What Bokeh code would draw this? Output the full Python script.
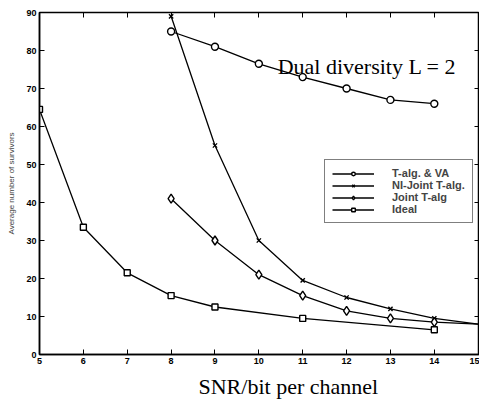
from bokeh.plotting import figure
from bokeh.models import Legend, LegendItem, LinearAxis, Label, FixedTicker, Title
from bokeh.embed import file_html
from bokeh.resources import INLINE

# data
snr_talg = [8, 9, 10, 11, 12, 13, 14]
talg_va = [85, 81, 76.5, 73, 70, 67, 66]

snr_ni = [8, 9, 10, 11, 12, 13, 14, 15]
ni_joint = [89, 55, 30, 19.5, 15, 12, 9.5, 8]

snr_joint = [8, 9, 10, 11, 12, 13, 14, 15]
joint_talg = [41, 30, 21, 15.5, 11.5, 9.5, 8.5, 8]

snr_ideal = [5, 6, 7, 8, 9, 11, 14]
ideal = [64.5, 33.5, 21.5, 15.5, 12.5, 9.5, 6.5]

x_ticks = [5, 6, 7, 8, 9, 10, 11, 12, 13, 14, 15]
y_ticks = [0, 10, 20, 30, 40, 50, 60, 70, 80, 90]

p = figure(width=479, height=407, output_backend="svg", toolbar_location=None,
           x_range=(5, 15.03), y_range=(0, 90),
           min_border_left=39, min_border_right=0, min_border_top=12, min_border_bottom=53)
p.grid.visible = False
p.outline_line_color = "black"
p.outline_line_width = 1.5
p.background_fill_color = "white"

font = "Liberation Sans"

for ax in [p.xaxis[0], p.yaxis[0]]:
    ax.major_tick_in = 5
    ax.major_tick_out = 0
    ax.minor_tick_line_color = None
    ax.axis_line_width = 1.5
    ax.major_label_text_font = font
    ax.major_label_text_font_style = "bold"
    ax.major_label_text_font_size = "9px"
    ax.major_label_text_color = "black"

p.xaxis[0].ticker = FixedTicker(ticks=x_ticks)
p.yaxis[0].ticker = FixedTicker(ticks=y_ticks)
p.xaxis[0].major_label_standoff = 3
p.yaxis[0].major_label_standoff = 3

p.yaxis[0].axis_label = "Average number of survivors"
p.yaxis[0].axis_label_text_font = font
p.yaxis[0].axis_label_text_font_style = "normal"
p.yaxis[0].axis_label_text_font_size = "8px"
p.yaxis[0].axis_label_standoff = 7

top = LinearAxis(ticker=FixedTicker(ticks=x_ticks), major_tick_in=5, major_tick_out=0,
                 minor_tick_line_color=None, major_label_overrides={t: "" for t in x_ticks},
                 major_label_standoff=0, axis_line_color=None)
right = LinearAxis(ticker=FixedTicker(ticks=y_ticks), major_tick_in=5, major_tick_out=0,
                   minor_tick_line_color=None, major_label_overrides={t: "" for t in y_ticks},
                   major_label_standoff=0, axis_line_color=None)
p.add_layout(top, "above")
p.add_layout(right, "right")

lw = 1.3
r1l = p.line(snr_talg, talg_va, line_color="black", line_width=lw)
r1m = p.scatter(snr_talg, talg_va, marker="circle", size=7, fill_color="white", line_color="black", line_width=1.4)
r2l = p.line(snr_ni, ni_joint, line_color="black", line_width=lw)
r2m = p.scatter(snr_ni[:-1], ni_joint[:-1], marker="x", size=6, line_color="black", line_width=1.4)
r3l = p.line(snr_joint, joint_talg, line_color="black", line_width=lw)
r3m = p.scatter(snr_joint[:-1], joint_talg[:-1], marker="diamond", size=9, fill_color="white", line_color="black", line_width=1.4)
r4l = p.line(snr_ideal, ideal, line_color="black", line_width=lw)
r4m = p.scatter(snr_ideal, ideal, marker="square", size=6, fill_color="white", line_color="black", line_width=1.4)

legend = Legend(items=[
    LegendItem(label="T-alg. & VA", renderers=[r1l, r1m]),
    LegendItem(label="NI-Joint T-alg.", renderers=[r2l, r2m]),
    LegendItem(label="Joint T-alg", renderers=[r3l, r3m]),
    LegendItem(label="Ideal", renderers=[r4l, r4m]),
], location=(285, 131), glyph_width=42, glyph_height=9, label_height=9,
    label_text_font=font, label_text_font_style="bold", label_text_font_size="11px",
    spacing=0, padding=7, margin=0, border_line_color="black", border_line_width=1.2,
    label_standoff=18)
p.add_layout(legend, "center")

p.add_layout(Label(x=10.43, y=72.5, text="Dual diversity L = 2", text_font="Liberation Serif",
                   text_font_size="22px", text_color="black"))

xtitle = Title(text="SNR/bit per channel", align="left", offset=159,
               text_font="Liberation Serif", text_font_size="22px", text_font_style="normal",
               text_color="black", standoff=10)
p.add_layout(xtitle, "below")

open("out.html", "w").write(file_html(p, INLINE))
